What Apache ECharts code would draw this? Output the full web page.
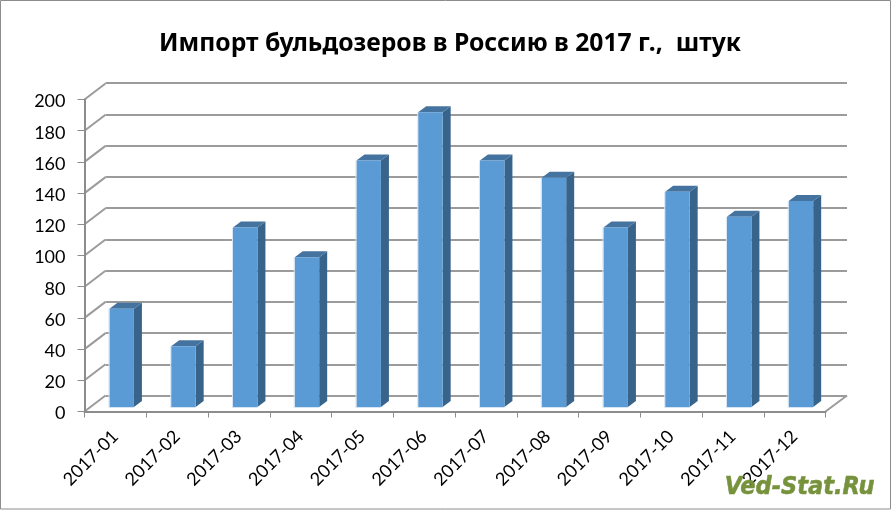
<!DOCTYPE html>
<html><head><meta charset="utf-8">
<style>html,body{margin:0;padding:0;background:#fff}#c{width:892px;height:510px}</style>
<script src="https://cdn.jsdelivr.net/npm/echarts@6/dist/echarts.min.js"></script>
</head><body><div id="c"></div>
<script>
const titleText = 'Импорт бульдозеров в Россию в 2017 г.,  штук';
const watermark = 'Ved-Stat.Ru';
const categories = ['2017-01','2017-02','2017-03','2017-04','2017-05','2017-06','2017-07','2017-08','2017-09','2017-10','2017-11','2017-12'];
const values = [63,39,115,96,158,189,158,147,115,138,122,132];
const wallTicks = [0,20,40,60,80,100,120,140,160,180,200];

const chart = echarts.init(document.getElementById('c'), null, {renderer:'canvas'});
const front = {l:84.5, r:825.5, t:99.5, b:411.5};
const back  = {l:105.5, r:847, t:83, b:395.5};
const plane = {l:90.8, r:831.8, t:95, b:407};
const gridOf = g => ({left:g.l, top:g.t, width:g.r-g.l, height:g.b-g.t});
const gray = '#8c8c8c';
const hiddenX = i => ({type:'category',gridIndex:i,data:categories,show:false,boundaryGap:true});
const hiddenY = i => ({type:'value',gridIndex:i,min:0,max:200,interval:20,show:false});

chart.setOption({
  animation:false,
  backgroundColor:'#fff',
  title:{text:titleText,left:445,top:26,textAlign:'center',
    textStyle:{fontFamily:'"Noto Sans"',fontWeight:'bold',fontSize:24.7,color:'#000'}},
  graphic:[
    {type:'rect',z:0,silent:true,shape:{x:0.5,y:0.5,width:890,height:508.5},style:{fill:'none',stroke:'#8c8c8c',lineWidth:1}},
    {type:'text',z:50,left:724.5,top:475,style:{text:watermark,fill:'#76923C',stroke:'#76923C',lineWidth:0.5,font:'italic bold 25px "DejaVu Sans Condensed","Liberation Sans"'}}
  ],
  grid:[gridOf(back),gridOf(front),gridOf(plane)],
  xAxis:[
    hiddenX(0),
    {type:'category',gridIndex:1,data:categories,boundaryGap:true,z:6,
      axisLine:{lineStyle:{color:gray,width:2}},
      axisTick:{show:true,alignWithLabel:false,length:6,lineStyle:{color:gray,width:1}},
      axisLabel:{rotate:45,interval:0,margin:22,fontFamily:'Lato',fontSize:18,color:'#000'}},
    hiddenX(2)
  ],
  yAxis:[
    {type:'value',gridIndex:0,min:0,max:200,interval:20,
      axisLine:{show:false},axisTick:{show:false},axisLabel:{show:false},
      splitLine:{show:true,lineStyle:{color:'#9b9b9b',width:2}}},
    {type:'value',gridIndex:1,min:0,max:200,interval:20,z:6,
      axisLine:{show:true,lineStyle:{color:gray,width:2}},
      axisTick:{show:true,length:7,lineStyle:{color:gray,width:1}},
      splitLine:{show:false},
      axisLabel:{margin:19,verticalAlign:'top',lineHeight:4,fontFamily:'Lato',fontSize:18,color:'#000'}},
    hiddenY(2)
  ],
  series:[
    {type:'custom',xAxisIndex:1,yAxisIndex:1,z:3,silent:true,data:wallTicks,
      renderItem(params,api){
        const y = api.coord([0,api.value(0)])[1];
        const x0 = params.coordSys.x, x1 = x0 + (back.l-front.l);
        const dy = front.b-back.b;
        const st = {stroke:'#9b9b9b',lineWidth:2,fill:'none'};
        const kids = [{type:'line',shape:{x1:x0,y1:y,x2:x1,y2:y-dy},style:st}];
        if (api.value(0)===0) {
          const xr = x0+params.coordSys.width;
          kids.push({type:'line',shape:{x1:xr,y1:y,x2:xr+(back.r-front.r),y2:y-dy},style:st});
        }
        return {type:'group',children:kids};
      },
      encode:{y:0}},
    {type:'custom',xAxisIndex:2,yAxisIndex:2,z:5,silent:true,
      data:values.map((v,i)=>[i,v]),
      renderItem(params,api){
        const c = api.coord([api.value(0),api.value(1)]);
        const base = api.coord([api.value(0),0])[1];
        const w = 24.5, dx = 8, dy = 6;
        const l = c[0]-w/2, r = c[0]+w/2, t = c[1];
        return {type:'group',children:[
          {type:'polygon',shape:{points:[[r,t],[r+dx,t-dy],[r+dx,base-dy],[r,base]]},style:{fill:'#38648C'}},
          {type:'polygon',shape:{points:[[l,t],[l+dx,t-dy],[r+dx,t-dy],[r,t]]},style:{fill:'#44739F'}},
          {type:'rect',shape:{x:l,y:t,width:w,height:base-t},style:{fill:'#5B9BD5'}},
          {type:'polyline',shape:{points:[[l-0.5,t],[l-0.5,base+0.5],[r,base+0.5]]},style:{fill:'none',stroke:'#d5e5f5',lineWidth:1}}
        ]};
      },
      encode:{x:0,y:1}}
  ]
});
</script></body></html>
